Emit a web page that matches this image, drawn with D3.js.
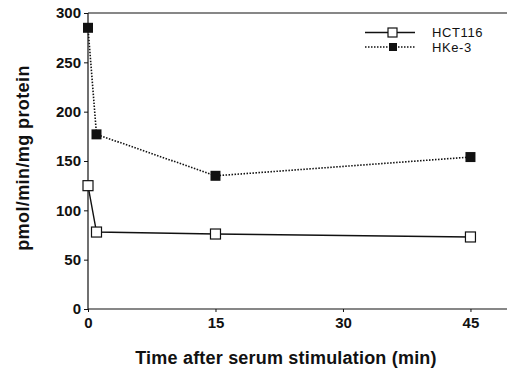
<!DOCTYPE html>
<html>
<head>
<script src="https://d3js.org/d3.v7.min.js"></script>
<style>
  body { margin: 0; background: #fff; }
  text { font-family: "Liberation Sans", Arial, sans-serif; font-weight: bold; fill: #111; }
</style>
</head>
<body>
<div id="chart"></div>
<script>
// time points (min) and values (pmol/min/mg protein)
const times = [0, 1, 15, 45];
const hct116 = [125, 78, 76, 73];
const hke3 = [285, 177, 135, 154];
const xTicks = [0, 15, 30, 45];
const yTicks = [0, 50, 100, 150, 200, 250, 300];
const seriesNames = ["HCT116", "HKe-3"];

const W = 507, H = 371;
const margin = { top: 13, right: 0, bottom: 62, left: 88 };
const width = W - margin.left - margin.right,
      height = H - margin.top - margin.bottom;

const svg = d3.select("#chart").append("svg")
    .attr("width", W).attr("height", H);
const g = svg.append("g")
    .attr("transform", `translate(${margin.left},${margin.top})`);

const x = d3.scaleLinear().domain([0, 49.3]).range([0, width]);
const y = d3.scaleLinear().domain([0, 300]).range([height, 0]);

// frame: top line
g.append("line").attr("x1", 0).attr("x2", width).attr("y1", 0).attr("y2", 0)
    .attr("stroke", "#111").attr("stroke-width", 1.2);

// axes
const xAxis = g.append("g").attr("transform", `translate(0,${height})`)
    .call(d3.axisBottom(x).tickValues(xTicks).tickSize(3).tickSizeOuter(0).tickPadding(5));
const yAxis = g.append("g")
    .call(d3.axisLeft(y).tickValues(yTicks).tickSize(4).tickSizeOuter(0).tickPadding(3));
[xAxis, yAxis].forEach(a => {
  a.select(".domain").attr("stroke", "#111").attr("stroke-width", 1.2);
  a.selectAll(".tick line").attr("stroke", "#111");
  a.selectAll("text").style("font-size", "15px").style("font-family", "Liberation Sans, Arial, sans-serif").style("font-weight", "bold");
});
yAxis.select(".domain").attr("d", `M0,${height}V0`);
xAxis.select(".domain").attr("d", `M0,0H${width}`);

const line = d3.line().x(d => x(d[0])).y(d => y(d[1]));
const dHct = times.map((t, i) => [t, hct116[i]]);
const dHke = times.map((t, i) => [t, hke3[i]]);

g.append("path").datum(dHke).attr("d", line)
    .attr("fill", "none").attr("stroke", "#111").attr("stroke-width", 1.6)
    .attr("stroke-dasharray", "1.5,1.5");
g.append("path").datum(dHct).attr("d", line)
    .attr("fill", "none").attr("stroke", "#111").attr("stroke-width", 1.4);

const ms = 10;
g.selectAll(".hke").data(dHke).enter().append("rect")
    .attr("x", d => x(d[0]) - ms / 2).attr("y", d => y(d[1]) - ms / 2)
    .attr("width", ms).attr("height", ms).attr("fill", "#111");
g.selectAll(".hct").data(dHct).enter().append("rect")
    .attr("x", d => x(d[0]) - ms / 2).attr("y", d => y(d[1]) - ms / 2)
    .attr("width", ms).attr("height", ms).attr("fill", "#fff")
    .attr("stroke", "#111").attr("stroke-width", 1.2);

// legend
const lg = svg.append("g");
lg.append("line").attr("x1", 365).attr("x2", 415).attr("y1", 32.5).attr("y2", 32.5)
    .attr("stroke", "#111").attr("stroke-width", 1.4);
lg.append("rect").attr("x", 388).attr("y", 28).attr("width", 9).attr("height", 9)
    .attr("fill", "#fff").attr("stroke", "#111").attr("stroke-width", 1.2);
lg.append("line").attr("x1", 365).attr("x2", 415).attr("y1", 47).attr("y2", 47)
    .attr("stroke", "#111").attr("stroke-width", 1.4).attr("stroke-dasharray", "1.5,1.5");
lg.append("rect").attr("x", 389).attr("y", 43).attr("width", 8).attr("height", 8)
    .attr("fill", "#111");
lg.selectAll(".lt").data(seriesNames).enter().append("text")
    .attr("x", 432).attr("y", (d, i) => 37 + i * 14.6)
    .style("font-size", "13px").style("font-weight", "normal")
    .style("letter-spacing", "0.6px")
    .text(d => d);

// axis labels
svg.append("text")
    .attr("transform", `translate(29,158) rotate(-90)`)
    .attr("text-anchor", "middle")
    .style("font-size", "18px").style("letter-spacing", "0.4px")
    .text("pmol/min/mg protein");
svg.append("text")
    .attr("x", 286).attr("y", 364)
    .attr("text-anchor", "middle")
    .style("font-size", "18px").style("letter-spacing", "0.2px")
    .text("Time after serum stimulation (min)");
</script>
</body>
</html>
